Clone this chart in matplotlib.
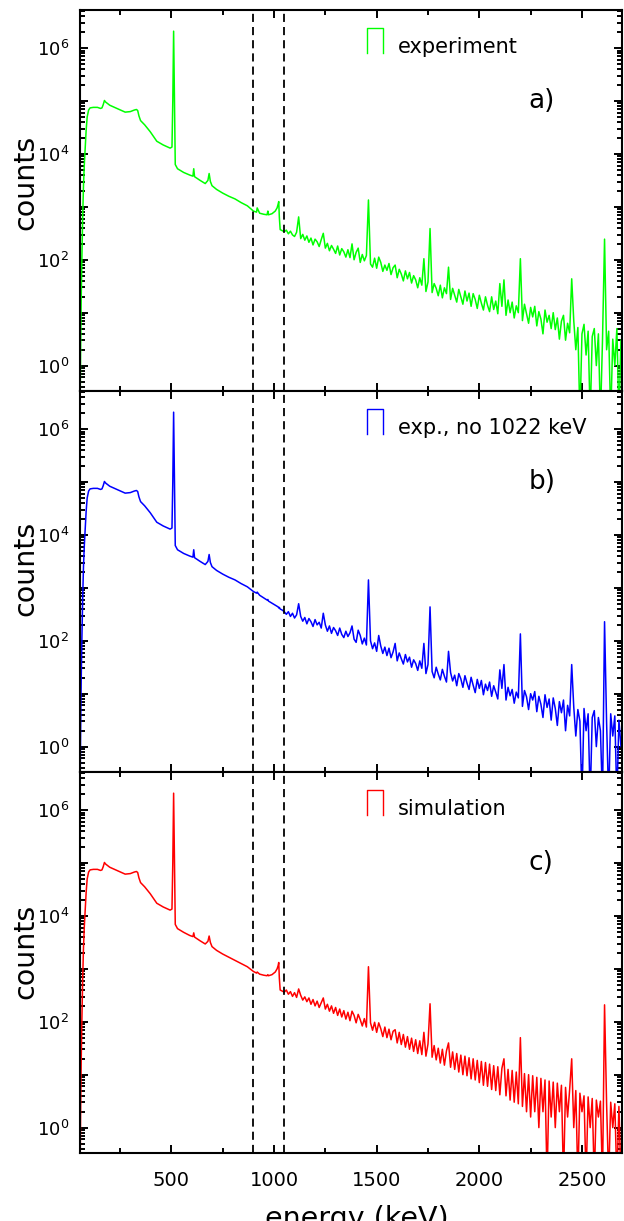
import numpy as np
import matplotlib
matplotlib.use("Agg")
import matplotlib.pyplot as plt
from matplotlib.ticker import FixedLocator, LogLocator, FuncFormatter, MultipleLocator, NullFormatter

plt.rcParams['font.family'] = ['DejaVu Sans']
plt.rcParams['mathtext.fontset'] = 'dejavusans'

# ---------------- data (log10 of counts) ----------------
low_energy = [55, 58, 61, 64, 68, 72, 76, 80, 85, 90,
              97, 104, 120, 140, 155, 162, 168, 174, 180, 200,
              240, 275, 300, 320, 330, 336, 342, 350, 370, 397,
              429, 460, 494, 503, 507, 511, 515, 519, 530, 560,
              590, 605, 609, 613, 640, 665, 678, 684, 690, 698,
              720, 750, 780, 810, 840, 870, 900, 915, 918, 930,
              950, 966, 970, 973, 990, 1006, 1015, 1020, 1023, 1026,
              1030, 1040, 1050]

low_log_a = [-1, 0.3, 1.3, 2.0, 2.8, 3.4, 3.8, 4.08, 4.45, 4.70,
             4.83, 4.87, 4.88, 4.88, 4.86, 4.87, 4.93, 5.01, 4.98, 4.92,
             4.85, 4.79, 4.80, 4.83, 4.84, 4.82, 4.72, 4.63, 4.55, 4.42,
             4.24, 4.17, 4.11, 4.13, 5.0, 6.32, 5.0, 3.80, 3.72, 3.65,
             3.60, 3.58, 3.72, 3.57, 3.50, 3.44, 3.50, 3.63, 3.48, 3.40,
             3.33, 3.26, 3.20, 3.15, 3.08, 3.02, 2.92, 2.90, 2.98, 2.88,
             2.86, 2.85, 2.92, 2.85, 2.87, 2.92, 2.98, 3.05, 3.10, 2.80,
             2.57, 2.55, 2.53]

low_log_b = [-1, 0.3, 1.3, 2.0, 2.8, 3.4, 3.8, 4.08, 4.45, 4.70,
             4.83, 4.87, 4.88, 4.88, 4.86, 4.87, 4.93, 5.01, 4.98, 4.92,
             4.85, 4.79, 4.80, 4.83, 4.84, 4.82, 4.72, 4.63, 4.55, 4.42,
             4.24, 4.17, 4.11, 4.13, 5.0, 6.32, 5.0, 3.80, 3.72, 3.65,
             3.60, 3.58, 3.72, 3.57, 3.50, 3.44, 3.50, 3.63, 3.48, 3.40,
             3.33, 3.26, 3.20, 3.15, 3.08, 3.02, 2.93, 2.90, 2.92, 2.86,
             2.81, 2.77, 2.78, 2.75, 2.71, 2.67, 2.65, 2.64, 2.62, 2.63,
             2.60, 2.58, 2.55]

low_log_c = [-1, 0.3, 1.3, 2.0, 2.8, 3.4, 3.8, 4.08, 4.45, 4.70,
             4.83, 4.87, 4.88, 4.88, 4.86, 4.87, 4.93, 5.01, 4.98, 4.92,
             4.85, 4.79, 4.80, 4.83, 4.84, 4.82, 4.72, 4.63, 4.55, 4.42,
             4.24, 4.17, 4.11, 4.13, 5.0, 6.32, 5.0, 3.84, 3.76, 3.69,
             3.63, 3.61, 3.68, 3.60, 3.53, 3.47, 3.52, 3.62, 3.50, 3.42,
             3.35, 3.28, 3.22, 3.16, 3.10, 3.04, 2.95, 2.92, 2.94, 2.90,
             2.88, 2.87, 2.89, 2.87, 2.89, 2.94, 3.00, 3.06, 3.12, 2.82,
             2.60, 2.58, 2.56]

grid_energy = list(range(1060, 2691, 10))  # 10 keV bin centres

high_log_a = [2.56, 2.49, 2.54, 2.47, 2.44, 2.52, 2.81, 2.40, 2.48, 2.37,
              2.45, 2.33, 2.41, 2.28, 2.39, 2.34, 2.25, 2.38, 2.50, 2.22,
              2.31, 2.17, 2.27, 2.20, 2.12, 2.26, 2.09, 2.21, 2.15, 2.05,
              2.19, 2.04, 2.30, 2.00, 2.14, 2.22, 1.95, 2.10, 1.98, 2.08,
              3.13, 1.92, 1.86, 2.03, 1.84, 2.05, 1.95, 1.78, 1.90, 1.80,
              1.93, 1.72, 1.85, 1.90, 1.66, 1.82, 1.73, 1.60, 1.79, 1.64,
              1.76, 1.56, 1.70, 1.62, 1.47, 1.66, 1.52, 2.02, 1.40, 1.58,
              2.59, 1.38, 1.55, 1.46, 1.32, 1.52, 1.28, 1.47, 1.36, 1.86,
              1.25, 1.46, 1.33, 1.20, 1.44, 1.30, 1.16, 1.41, 1.22, 1.37,
              1.12, 1.36, 1.25, 1.08, 1.33, 1.18, 1.05, 1.30, 1.14, 1.02,
              1.30, 1.06, 1.22, 0.98, 1.55, 1.12, 1.62, 0.95, 1.24, 1.00,
              1.20, 0.90, 1.13, 1.00, 2.02, 0.85, 1.16, 0.98, 0.80, 1.10,
              0.92, 1.12, 0.75, 1.02, 0.88, 0.60, 1.05, 0.82, 0.95, 0.70,
              1.00, 0.68, 0.90, 0.50, 0.84, 0.95, 0.48, 0.80, 0.62, 1.64,
              0.85, 0.30, 0.72, -1, 0.60, 0.78, 0.20, 0.65, -1, 0.55,
              0.70, 0.0, 0.60, -1, 0.48, 2.39, 0.30, 0.65, -1, 0.50,
              0.0, 0.70, -1, 0.48]

high_log_b = [2.50, 2.55, 2.46, 2.52, 2.43, 2.49, 2.70, 2.46, 2.37, 2.44,
              2.32, 2.42, 2.36, 2.27, 2.40, 2.30, 2.35, 2.24, 2.52, 2.30,
              2.18, 2.28, 2.14, 2.25, 2.19, 2.10, 2.24, 2.12, 2.06, 2.18,
              2.08, 2.15, 2.28, 2.03, 1.97, 2.20, 2.10, 1.94, 2.05, 1.92,
              3.15, 2.00, 1.85, 1.96, 1.80, 2.10, 1.90, 1.76, 1.88, 1.72,
              1.86, 1.68, 1.79, 1.95, 1.62, 1.77, 1.66, 1.56, 1.74, 1.60,
              1.69, 1.50, 1.64, 1.57, 1.44, 1.62, 1.48, 1.95, 1.38, 1.55,
              2.64, 1.42, 1.30, 1.50, 1.37, 1.26, 1.46, 1.33, 1.22, 1.80,
              1.40, 1.24, 1.35, 1.15, 1.38, 1.28, 1.12, 1.34, 1.20, 1.08,
              1.31, 1.16, 1.02, 1.27, 1.10, 1.25, 0.98, 1.18, 1.06, 1.22,
              0.95, 1.15, 1.03, 0.90, 1.45, 1.10, 1.55, 0.88, 1.12, 0.96,
              1.08, 0.82, 1.03, 0.92, 2.13, 0.76, 1.06, 0.94, 0.70, 1.00,
              0.88, 1.04, 0.66, 0.95, 0.80, 0.55, 0.98, 0.74, 0.90, 0.50,
              0.92, 0.72, 0.40, 0.85, 0.64, 0.88, 0.30, 0.78, 0.58, 1.55,
              0.75, 0.20, 0.70, 0.48, -1, 0.72, 0.30, 0.62, -1, 0.55,
              0.68, 0.0, 0.55, 0.30, -1, 2.36, 0.45, -1, 0.62, 0.20,
              0.58, -1, 0.50, 0.0]

high_log_c = [2.60, 2.52, 2.57, 2.48, 2.55, 2.46, 2.62, 2.50, 2.41, 2.47,
              2.38, 2.45, 2.33, 2.42, 2.30, 2.39, 2.27, 2.36, 2.45, 2.24,
              2.33, 2.20, 2.30, 2.16, 2.27, 2.12, 2.24, 2.09, 2.21, 2.05,
              2.18, 2.02, 2.20, 2.12, 1.98, 2.14, 2.04, 1.92, 2.06, 1.90,
              3.04, 1.98, 1.84, 1.99, 1.80, 1.98, 1.87, 1.72, 1.90, 1.70,
              1.86, 1.66, 1.82, 1.85, 1.60, 1.80, 1.57, 1.76, 1.52, 1.72,
              1.48, 1.69, 1.44, 1.66, 1.40, 1.64, 1.38, 1.80, 1.35, 1.58,
              2.34, 1.33, 1.55, 1.28, 1.50, 1.22, 1.48, 1.18, 1.45, 1.60,
              1.14, 1.43, 1.10, 1.40, 1.05, 1.37, 1.00, 1.35, 0.98, 1.32,
              0.92, 1.30, 0.90, 1.27, 0.85, 1.25, 0.80, 1.23, 0.78, 1.20,
              0.72, 1.17, 0.70, 1.15, 0.62, 1.12, 1.30, 0.60, 1.10, 0.52,
              1.08, 0.48, 1.05, 0.45, 1.70, 0.40, 1.02, 0.30, 1.00, 0.20,
              0.98, 0.30, 0.95, 0.0, 0.93, 0.30, 0.90, -1, 0.88, 0.20,
              0.86, 0.0, 0.84, 0.30, 0.80, -1, 0.76, 0.20, 0.72, 1.30,
              0.0, 0.70, -1, 0.65, 0.30, 0.60, -1, 0.58, 0.0, 0.55,
              -1, 0.52, 0.20, 0.50, -1, 2.32, 0.45, -1, 0.48, 0.0,
              0.45, -1, 0.40, -1]

labels = ["experiment", "exp., no 1022 keV", "simulation"]
panel_tags = ["a)", "b)", "c)"]
colors = ["#00ff00", "#0000ff", "#ff0000"]
window_lines = [900, 1050]
x_major = [500, 1000, 1500, 2000, 2500]

series = [(low_log_a, high_log_a), (low_log_b, high_log_b), (low_log_c, high_log_c)]

# ---------------- figure ----------------
W, H = 624, 1221
fig = plt.figure(figsize=(W / 100, H / 100), dpi=100)

left_px, right_px = 80, 622
tops = [10, 391, 772]
ph = 381

ylo, yhi = 10 ** -0.48, 10 ** 6.72

for i in range(3):
    top = tops[i]
    ax = fig.add_axes([left_px / W, 1 - (top + ph) / H, (right_px - left_px) / W, ph / H])
    lo, hi = series[i]
    e = np.array(low_energy + grid_energy, dtype=float)
    v = 10.0 ** np.array(lo + hi, dtype=float)
    ax.plot(e, v, color=colors[i], lw=1.1)
    ax.set_yscale('log')
    ax.set_xlim(55, 2695)
    ax.set_ylim(ylo, yhi)
    for xv in window_lines:
        ax.axvline(xv, color='black', lw=1.3, linestyle=(0, (4.5, 2.8)))

    # ticks
    ax.xaxis.set_major_locator(FixedLocator(x_major))
    ax.xaxis.set_minor_locator(MultipleLocator(250))
    ax.yaxis.set_major_locator(FixedLocator([10.0 ** k for k in range(0, 7)]))
    ax.yaxis.set_minor_locator(LogLocator(base=10, subs=np.arange(2, 10), numticks=20))
    ax.yaxis.set_minor_formatter(NullFormatter())
    ax.yaxis.set_major_formatter(FuncFormatter(
        lambda y, p: (r'$10^{%d}$' % int(round(np.log10(y)))) if int(round(np.log10(y))) % 2 == 0 else ''))
    ax.tick_params(which='both', direction='in', top=True, right=True, width=1.4, color='black')
    ax.tick_params(which='major', length=5.8)
    ax.tick_params(which='minor', length=3.6)
    ax.tick_params(axis='y', which='major', labelsize=13, pad=8)
    ax.tick_params(axis='x', which='major', labelsize=14, pad=13)
    if i < 2:
        ax.tick_params(axis='x', labelbottom=False)
    for s in ax.spines.values():
        s.set_linewidth(1.5)

    # legend-like box (open rectangle) and text
    bx0, bx1, by0, by1 = 0.530, 0.559, 0.886, 0.952
    ax.plot([bx0, bx0, bx1, bx1], [by0, by1, by1, by0], color=colors[i], lw=1.0,
            transform=ax.transAxes, clip_on=False)
    ax.text(0.587, by0, labels[i], transform=ax.transAxes, fontsize=15,
            ha='left', va='baseline')
    ax.text(0.827, 0.743, panel_tags[i], transform=ax.transAxes, fontsize=19,
            ha='left', va='baseline')

# y labels
for yc in [182, 568, 951]:
    fig.text(25 / W, 1 - yc / H, "counts", rotation=90, fontsize=20.5,
             ha='center', va='center')

fig.text(357 / W, 1 - 1205 / H, "energy (keV)", fontsize=20.5, ha='center', va='top')

fig.savefig("out.png", dpi=100)
